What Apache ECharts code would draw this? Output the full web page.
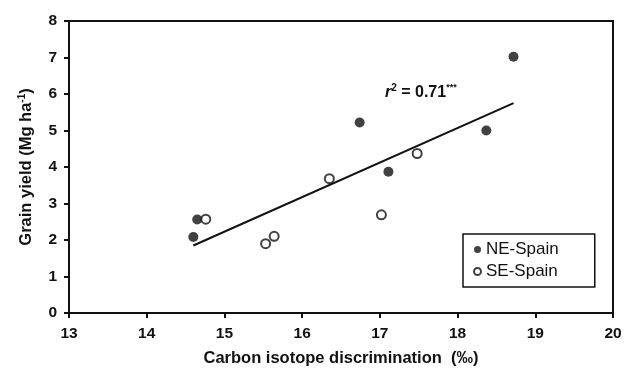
<!DOCTYPE html>
<html><head><meta charset="utf-8">
<script src="https://cdn.jsdelivr.net/npm/echarts@6/dist/echarts.min.js"></script>
<style>html,body{margin:0;padding:0;background:#fff}#c{width:628px;height:372px}</style>
</head><body><div id="c"></div>
<script>
const neSpain = [[14.60,2.08],[14.65,2.56],[16.74,5.22],[17.11,3.87],[18.37,5.00],[18.72,7.02]];
const seSpain = [[14.76,2.57],[15.53,1.90],[15.64,2.10],[16.35,3.68],[17.02,2.69],[17.48,4.37]];
const trendLine = [[14.60,1.85],[18.72,5.75]];
const xTicks = [13,14,15,16,17,18,19,20];
const yTicks = [0,1,2,3,4,5,6,7,8];

const font = '"Liberation Sans", Arial, sans-serif';
const chart = echarts.init(document.getElementById('c'));
chart.setOption({
  animation:false,
  textStyle:{fontFamily:font},
  grid:{left:69,top:21,right:15,bottom:58,show:true,borderColor:'#111',borderWidth:2},
  xAxis:{type:'value',min:xTicks[0],max:xTicks[xTicks.length-1],interval:1,
    name:'Carbon isotope discrimination  (‰)',nameLocation:'middle',nameGap:37,
    nameTextStyle:{fontSize:16.5,fontWeight:'bold',color:'#111',fontFamily:font},
    axisLine:{lineStyle:{color:'#111',width:2}},
    axisTick:{show:true,inside:false,length:5,lineStyle:{color:'#111',width:2}},
    axisLabel:{fontSize:15.5,fontWeight:'bold',color:'#111',margin:13,fontFamily:font},
    splitLine:{show:false}},
  yAxis:{type:'value',min:yTicks[0],max:yTicks[yTicks.length-1],interval:1,
    name:'{a|Grain yield (Mg ha}{s|-1}{a|)}',nameLocation:'middle',nameGap:34,nameRotate:90,
    nameTextStyle:{fontSize:16.5,fontWeight:'bold',color:'#111',fontFamily:font,
      rich:{a:{fontSize:16.5,fontWeight:'bold',color:'#111',fontFamily:font,lineHeight:18,verticalAlign:'bottom'},
            s:{fontSize:10,fontWeight:'bold',color:'#111',fontFamily:font,lineHeight:18,verticalAlign:'top'}}},
    axisLine:{lineStyle:{color:'#111',width:2}},
    axisTick:{show:true,inside:false,length:5,lineStyle:{color:'#111',width:2}},
    axisLabel:{fontSize:15.5,fontWeight:'bold',color:'#111',margin:12,fontFamily:font},
    splitLine:{show:false}},
  legend:{show:true,left:463,top:234,orient:'vertical',
    borderColor:'#111',borderWidth:1.5,padding:[7,36,7,10],itemGap:5,
    itemWidth:7,itemHeight:7,
    textStyle:{fontSize:17,color:'#111',fontFamily:font},
    data:['NE-Spain','SE-Spain']},
  series:[
    {name:'trend',type:'line',data:trendLine,symbol:'none',lineStyle:{color:'#111',width:2},silent:true},
    {name:'NE-Spain',type:'scatter',data:neSpain,symbol:'circle',symbolSize:10,itemStyle:{color:'#111'}},
    {name:'SE-Spain',type:'scatter',data:seSpain,symbol:'circle',symbolSize:9,itemStyle:{color:'#fff',borderColor:'#111',borderWidth:2}}
  ],
  graphic:[{type:'text',left:385,top:83,style:{
    text:'{i|r}{s|2}{b| = 0.71}{t|***}',
    rich:{i:{fontSize:16,fontWeight:'bold',fontStyle:'italic',fill:'#111',fontFamily:font,lineHeight:18,verticalAlign:'bottom'},
          s:{fontSize:10,fontWeight:'bold',fill:'#111',fontFamily:font,lineHeight:18,verticalAlign:'top'},
          b:{fontSize:16,fontWeight:'bold',fill:'#111',fontFamily:font,lineHeight:18,verticalAlign:'bottom'},
          t:{fontSize:9,fontWeight:'bold',fill:'#111',fontFamily:font,lineHeight:18,verticalAlign:'top'}}}}]
});
</script></body></html>
